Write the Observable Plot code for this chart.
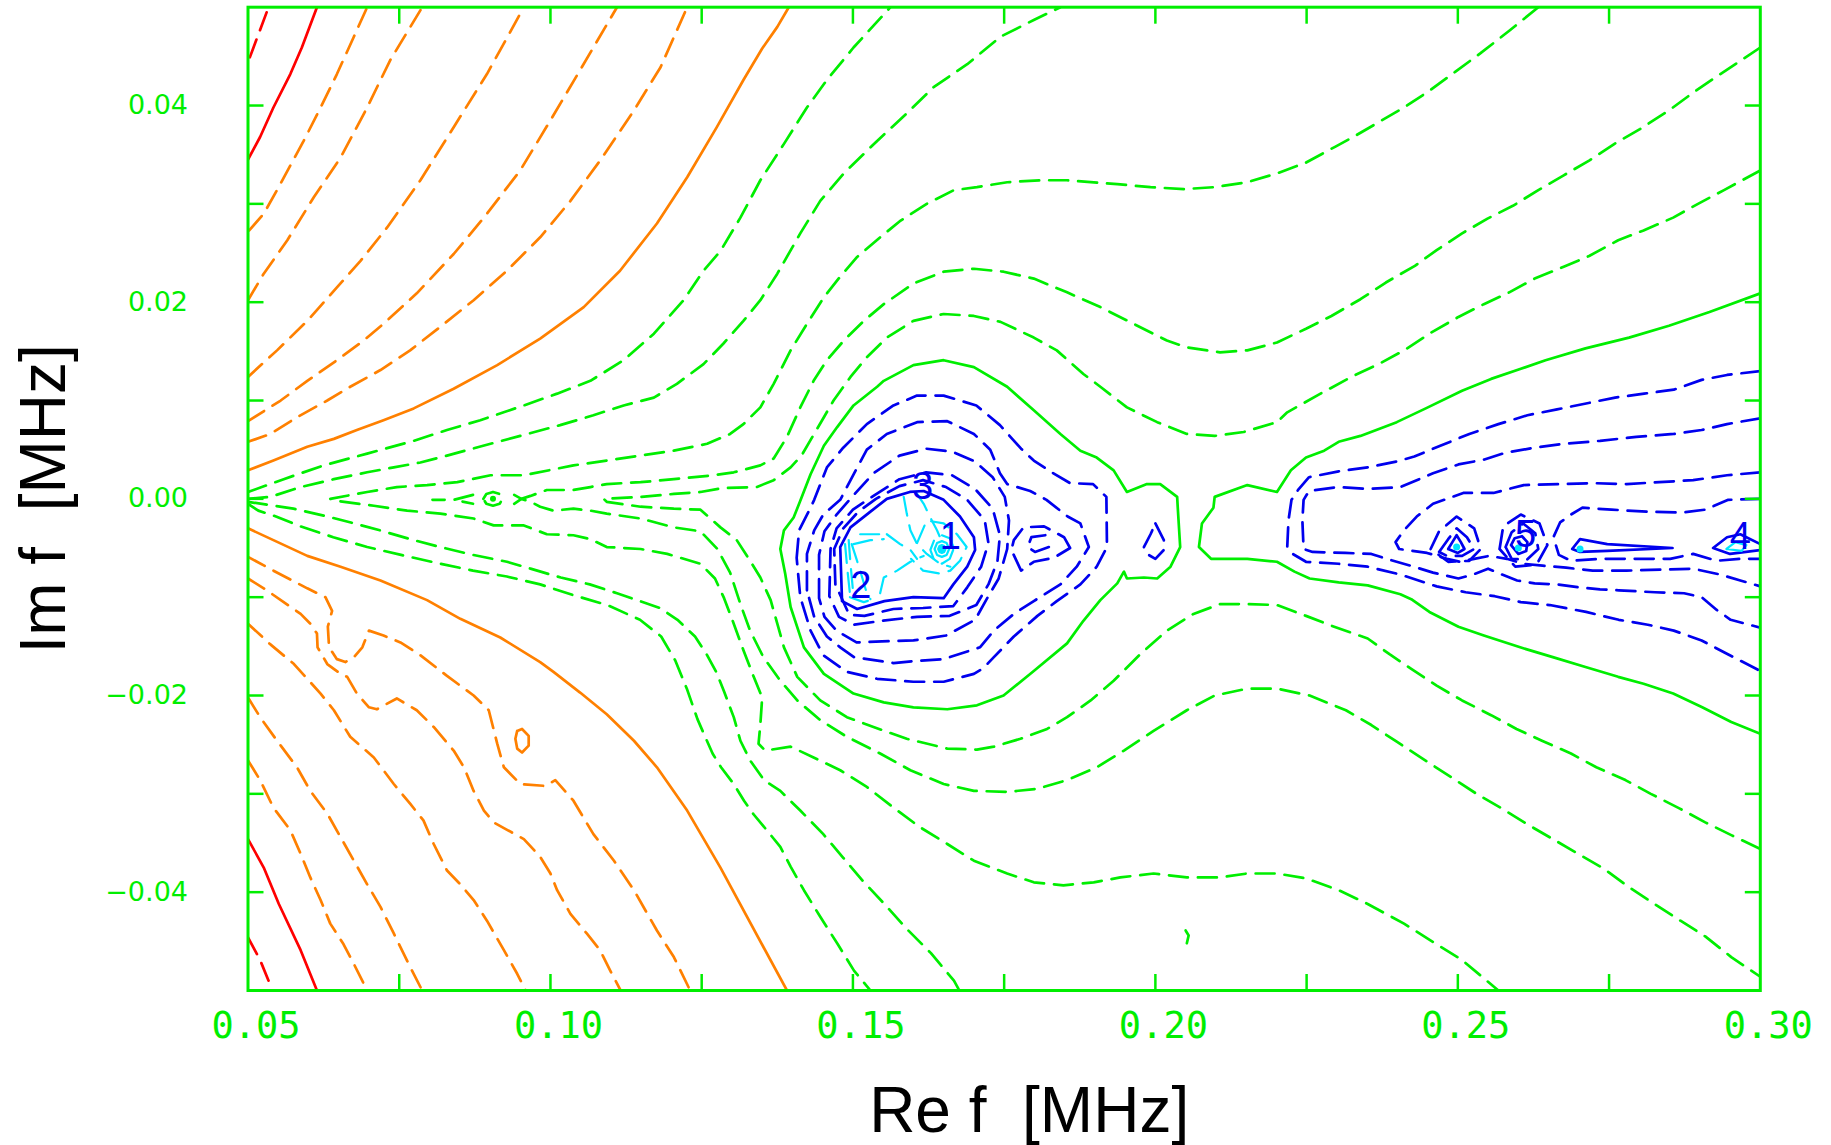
<!DOCTYPE html>
<html><head><meta charset="utf-8">
<script src="https://cdn.jsdelivr.net/npm/d3@7"></script>
<script src="https://cdn.jsdelivr.net/npm/@observablehq/plot@0.6"></script>
<style>html,body{margin:0;padding:0;background:#fff;}</style>
</head><body>
<div id="chart"></div>
<script>
// ---------- axis ticks ----------
const xMajorTicks = [0.05, 0.10, 0.15, 0.20, 0.25, 0.30];
const xMinorTicks = [0.075, 0.10, 0.125, 0.15, 0.175, 0.20, 0.225, 0.25, 0.275];
const yMajorTicks = [-0.04, -0.02, 0.00, 0.02, 0.04];
const yMinorTicks = [-0.04, -0.03, -0.02, -0.01, 0.00, 0.01, 0.02, 0.03, 0.04];
const xTitle = "Re f\u00a0\u00a0[MHz]";
const yTitle = "Im f\u00a0\u00a0[MHz]";

// ---------- resonance labels (Re f, Im f) ----------
const resonanceLabels = [
  {re: 0.1661, im: -0.0039, label: "1"},
  {re: 0.1513, im: -0.0088, label: "2"},
  {re: 0.1615, im: 0.0012, label: "3"},
  {re: 0.2967, im: -0.0039, label: "4"},
  {re: 0.2612, im: -0.0037, label: "5"}
];

// ---------- contour lines, [Re f, Im f] in MHz ----------
const redSolid = [
  [[0.0500,0.0345],[0.0520,0.0368],[0.0542,0.0398],[0.0570,0.0432],[0.0589,0.0459],[0.0614,0.0500]],
  [[0.0500,-0.0346],[0.0526,-0.0375],[0.0551,-0.0412],[0.0587,-0.0459],[0.0614,-0.0500]]
];
const redDashed = [
  [[0.0503,0.0449],[0.0534,0.0500]],
  [[0.0500,-0.0446],[0.0520,-0.0469],[0.0534,-0.0490],[0.0537,-0.0500]]
];
const orangeSolid = [
  [[0.0500,0.0029],[0.0542,0.0039],[0.0598,0.0053],[0.0642,0.0061],[0.0680,0.0070],[0.0724,0.0080],[0.0774,0.0092],[0.0840,0.0112],[0.0912,0.0136],[0.0983,0.0163],[0.1055,0.0195],[0.1115,0.0232],[0.1176,0.0280],[0.1226,0.0327],[0.1275,0.0378],[0.1319,0.0426],[0.1350,0.0458],[0.1375,0.0480],[0.1394,0.0500]],
  [[0.0500,-0.0030],[0.0542,-0.0042],[0.0598,-0.0058],[0.0653,-0.0069],[0.0719,-0.0083],[0.0796,-0.0103],[0.0851,-0.0122],[0.0917,-0.0141],[0.0983,-0.0166],[0.1005,-0.0176],[0.1049,-0.0197],[0.1093,-0.0219],[0.1138,-0.0246],[0.1176,-0.0273],[0.1226,-0.0317],[0.1281,-0.0375],[0.1391,-0.0500]],
  [[0.0945,-0.0236],[0.0953,-0.0234],[0.0964,-0.0241],[0.0964,-0.0251],[0.0953,-0.0258],[0.0945,-0.0254],[0.0942,-0.0244],[0.0945,-0.0236]]
];
const orangeDashed = [
  [[0.0502,0.0273],[0.0526,0.0290],[0.0548,0.0314],[0.0592,0.0364],[0.0620,0.0398],[0.0647,0.0432],[0.0675,0.0470],[0.0697,0.0500]],
  [[0.0500,0.0202],[0.0526,0.0229],[0.0565,0.0263],[0.0609,0.0307],[0.0653,0.0347],[0.0697,0.0398],[0.0735,0.0446],[0.0788,0.0500]],
  [[0.0500,0.0124],[0.0548,0.0151],[0.0598,0.0181],[0.0647,0.0215],[0.0686,0.0242],[0.0730,0.0276],[0.0785,0.0324],[0.0840,0.0378],[0.0895,0.0432],[0.0956,0.0500]],
  [[0.0500,0.0079],[0.0554,0.0100],[0.0598,0.0120],[0.0647,0.0141],[0.0691,0.0161],[0.0724,0.0178],[0.0779,0.0209],[0.0840,0.0249],[0.0890,0.0286],[0.0950,0.0334],[0.1000,0.0385],[0.1049,0.0436],[0.1110,0.0500]],
  [[0.0500,0.0058],[0.0537,0.0066],[0.0581,0.0083],[0.0631,0.0100],[0.0669,0.0114],[0.0719,0.0131],[0.0768,0.0151],[0.0818,0.0175],[0.0873,0.0202],[0.0928,0.0232],[0.0983,0.0266],[0.1033,0.0303],[0.1082,0.0344],[0.1138,0.0395],[0.1182,0.0439],[0.1226,0.0500]],
  [[0.0500,-0.0059],[0.0542,-0.0073],[0.0598,-0.0091],[0.0628,-0.0100],[0.0639,-0.0114],[0.0632,-0.0130],[0.0634,-0.0151],[0.0647,-0.0163],[0.0661,-0.0166],[0.0675,-0.0161],[0.0689,-0.0151],[0.0700,-0.0134],[0.0724,-0.0139],[0.0752,-0.0146],[0.0785,-0.0159],[0.0829,-0.0180],[0.0873,-0.0200],[0.0898,-0.0215],[0.0912,-0.0249],[0.0923,-0.0273],[0.0950,-0.0290],[0.0992,-0.0292],[0.1008,-0.0286],[0.1038,-0.0307],[0.1071,-0.0341],[0.1105,-0.0368],[0.1138,-0.0398],[0.1176,-0.0439],[0.1204,-0.0466],[0.1231,-0.0500]],
  [[0.0500,-0.0081],[0.0526,-0.0091],[0.0559,-0.0105],[0.0587,-0.0117],[0.0603,-0.0127],[0.0614,-0.0137],[0.0615,-0.0151],[0.0631,-0.0168],[0.0653,-0.0178],[0.0664,-0.0181],[0.0680,-0.0198],[0.0700,-0.0212],[0.0713,-0.0214],[0.0746,-0.0203],[0.0779,-0.0215],[0.0807,-0.0232],[0.0840,-0.0256],[0.0857,-0.0273],[0.0873,-0.0297],[0.0890,-0.0317],[0.0906,-0.0329],[0.0956,-0.0346],[0.0983,-0.0364],[0.1000,-0.0381],[0.1011,-0.0398],[0.1033,-0.0422],[0.1060,-0.0442],[0.1082,-0.0459],[0.1099,-0.0480],[0.1116,-0.0500]],
  [[0.0500,-0.0127],[0.0537,-0.0148],[0.0576,-0.0168],[0.0620,-0.0198],[0.0642,-0.0215],[0.0669,-0.0242],[0.0708,-0.0263],[0.0741,-0.0290],[0.0768,-0.0310],[0.0790,-0.0327],[0.0807,-0.0351],[0.0829,-0.0378],[0.0851,-0.0392],[0.0873,-0.0408],[0.0895,-0.0429],[0.0923,-0.0459],[0.0945,-0.0483],[0.0959,-0.0500]],
  [[0.0500,-0.0202],[0.0520,-0.0222],[0.0548,-0.0246],[0.0581,-0.0273],[0.0603,-0.0297],[0.0631,-0.0320],[0.0653,-0.0344],[0.0675,-0.0368],[0.0697,-0.0392],[0.0719,-0.0415],[0.0741,-0.0442],[0.0768,-0.0476],[0.0788,-0.0500]],
  [[0.0500,-0.0266],[0.0520,-0.0286],[0.0542,-0.0314],[0.0570,-0.0337],[0.0587,-0.0361],[0.0603,-0.0385],[0.0620,-0.0408],[0.0636,-0.0432],[0.0658,-0.0453],[0.0675,-0.0473],[0.0697,-0.0500]]
];
const greenSolid = [
  [[0.1413,-0.0002],[0.1430,0.0025],[0.1452,0.0054],[0.1474,0.0073],[0.1501,0.0095],[0.1540,0.0114],[0.1551,0.0120],[0.1600,0.0136],[0.1650,0.0141],[0.1700,0.0134],[0.1755,0.0114],[0.1799,0.0090],[0.1843,0.0066],[0.1876,0.0049],[0.1903,0.0042],[0.1931,0.0029],[0.1953,0.0007],[0.1986,0.0015],[0.2008,0.0015],[0.2036,0.0002],[0.2037,-0.0009],[0.2041,-0.0049],[0.2025,-0.0069],[0.2003,-0.0081],[0.1981,-0.0080],[0.1953,-0.0081],[0.1948,-0.0074],[0.1937,-0.0086],[0.1909,-0.0103],[0.1881,-0.0124],[0.1854,-0.0147],[0.1799,-0.0175],[0.1749,-0.0200],[0.1705,-0.0210],[0.1656,-0.0214],[0.1600,-0.0212],[0.1551,-0.0207],[0.1501,-0.0198],[0.1452,-0.0178],[0.1419,-0.0151],[0.1397,-0.0110],[0.1388,-0.0076],[0.1380,-0.0051],[0.1386,-0.0032],[0.1402,-0.0019],[0.1413,-0.0002]],
  [[0.3000,0.0209],[0.2916,0.0190],[0.2849,0.0176],[0.2783,0.0164],[0.2711,0.0153],[0.2645,0.0141],[0.2603,0.0132],[0.2555,0.0122],[0.2507,0.0110],[0.2447,0.0092],[0.2399,0.0078],[0.2339,0.0064],[0.2303,0.0058],[0.2279,0.0049],[0.2249,0.0042],[0.2224,0.0029],[0.2201,0.0007],[0.2152,0.0014],[0.2098,0.0002],[0.2096,-0.0009],[0.2077,-0.0025],[0.2072,-0.0049],[0.2092,-0.0061],[0.2152,-0.0061],[0.2201,-0.0064],[0.2230,-0.0074],[0.2255,-0.0081],[0.2303,-0.0085],[0.2351,-0.0088],[0.2405,-0.0097],[0.2423,-0.0102],[0.2453,-0.0115],[0.2501,-0.0130],[0.2543,-0.0139],[0.2603,-0.0151],[0.2657,-0.0161],[0.2711,-0.0171],[0.2765,-0.0181],[0.2807,-0.0188],[0.2856,-0.0198],[0.2904,-0.0212],[0.2952,-0.0227],[0.3000,-0.0239]],
  [[0.2050,-0.0439],[0.2055,-0.0444],[0.2052,-0.0452]]
];
const greenDashed = [
  [[0.0500,0.0007],[0.0559,0.0020],[0.0625,0.0034],[0.0697,0.0046],[0.0774,0.0059],[0.0829,0.0070],[0.0884,0.0080],[0.0956,0.0095],[0.1011,0.0107],[0.1066,0.0120],[0.1121,0.0141],[0.1171,0.0168],[0.1220,0.0202],[0.1253,0.0232],[0.1281,0.0252],[0.1314,0.0286],[0.1347,0.0324],[0.1386,0.0361],[0.1424,0.0398],[0.1457,0.0426],[0.1501,0.0459],[0.1562,0.0500]],
  [[0.0500,0.0000],[0.0537,0.0002],[0.0587,0.0012],[0.0642,0.0020],[0.0697,0.0027],[0.0741,0.0032],[0.0785,0.0037],[0.0829,0.0044],[0.0901,0.0056],[0.0950,0.0064],[0.1016,0.0075],[0.1071,0.0085],[0.1121,0.0095],[0.1171,0.0103],[0.1209,0.0117],[0.1253,0.0137],[0.1286,0.0158],[0.1319,0.0181],[0.1347,0.0202],[0.1375,0.0229],[0.1413,0.0270],[0.1446,0.0303],[0.1485,0.0331],[0.1540,0.0364],[0.1589,0.0392],[0.1634,0.0419],[0.1689,0.0442],[0.1744,0.0470],[0.1799,0.0487],[0.1843,0.0500]],
  [[0.2633,0.0500],[0.2585,0.0476],[0.2537,0.0453],[0.2495,0.0434],[0.2453,0.0415],[0.2411,0.0398],[0.2369,0.0383],[0.2327,0.0368],[0.2297,0.0358],[0.2249,0.0342],[0.2201,0.0331],[0.2152,0.0322],[0.2098,0.0317],[0.2047,0.0315],[0.1992,0.0317],[0.1937,0.0320],[0.1854,0.0324],[0.1810,0.0324],[0.1755,0.0322],[0.1705,0.0317],[0.1667,0.0314],[0.1622,0.0300],[0.1579,0.0283],[0.1545,0.0266],[0.1507,0.0246],[0.1479,0.0226],[0.1452,0.0205],[0.1424,0.0178],[0.1397,0.0151],[0.1369,0.0117],[0.1347,0.0093],[0.1319,0.0076],[0.1297,0.0066],[0.1259,0.0056],[0.1204,0.0049],[0.1149,0.0044],[0.1093,0.0039],[0.1038,0.0034],[0.0956,0.0024],[0.0901,0.0024],[0.0846,0.0017],[0.0796,0.0014],[0.0746,0.0012],[0.0697,0.0007],[0.0636,0.0000],
   [0.0647,-0.0002],[0.0708,-0.0007],[0.0763,-0.0012],[0.0818,-0.0015],[0.0873,-0.0020],[0.0906,-0.0027],[0.0956,-0.0027],[0.0994,-0.0036],[0.1038,-0.0037],[0.1066,-0.0041],[0.1093,-0.0049],[0.1149,-0.0051],[0.1193,-0.0056],[0.1248,-0.0066],[0.1272,-0.0081],[0.1287,-0.0101],[0.1303,-0.0127],[0.1319,-0.0154],[0.1336,-0.0181],[0.1350,-0.0202],[0.1347,-0.0229],[0.1344,-0.0249],[0.1355,-0.0256],[0.1397,-0.0252],[0.1435,-0.0263],[0.1479,-0.0276],[0.1523,-0.0293],[0.1567,-0.0314],[0.1611,-0.0334],[0.1656,-0.0351],[0.1700,-0.0368],[0.1755,-0.0381],[0.1799,-0.0390],[0.1848,-0.0393],[0.1898,-0.0390],[0.1942,-0.0385],[0.1997,-0.0381],[0.2052,-0.0385],[0.2106,-0.0385],[0.2152,-0.0381],[0.2201,-0.0381],[0.2249,-0.0386],[0.2303,-0.0398],[0.2351,-0.0412],[0.2411,-0.0432],[0.2465,-0.0453],[0.2507,-0.0469],[0.2567,-0.0500]],
  [[0.3000,0.0459],[0.2934,0.0432],[0.2891,0.0414],[0.2849,0.0395],[0.2801,0.0376],[0.2759,0.0361],[0.2717,0.0344],[0.2675,0.0329],[0.2633,0.0314],[0.2591,0.0298],[0.2549,0.0285],[0.2507,0.0270],[0.2465,0.0253],[0.2429,0.0237],[0.2381,0.0220],[0.2339,0.0203],[0.2291,0.0186],[0.2249,0.0173],[0.2201,0.0159],[0.2152,0.0151],[0.2107,0.0149],[0.2052,0.0154],[0.2019,0.0161],[0.1964,0.0178],[0.1909,0.0195],[0.1854,0.0210],[0.1799,0.0224],[0.1749,0.0231],[0.1700,0.0234],[0.1650,0.0231],[0.1600,0.0219],[0.1551,0.0198],[0.1518,0.0181],[0.1485,0.0161],[0.1457,0.0141],[0.1435,0.0120],[0.1413,0.0093],[0.1391,0.0063],[0.1369,0.0041],[0.1347,0.0034],[0.1303,0.0027],[0.1270,0.0024],[0.1204,0.0020],[0.1149,0.0017],[0.1093,0.0015],[0.1066,0.0012],[0.1038,0.0009],[0.0994,0.0009],[0.0967,0.0003],[0.0952,0.0000],
   [0.0967,-0.0003],[0.0983,-0.0008],[0.1005,-0.0012],[0.1038,-0.0010],[0.1066,-0.0012],[0.1093,-0.0015],[0.1149,-0.0020],[0.1204,-0.0029],[0.1248,-0.0033],[0.1276,-0.0051],[0.1297,-0.0075],[0.1314,-0.0107],[0.1330,-0.0134],[0.1352,-0.0161],[0.1380,-0.0185],[0.1408,-0.0205],[0.1446,-0.0225],[0.1490,-0.0242],[0.1545,-0.0259],[0.1595,-0.0276],[0.1650,-0.0290],[0.1700,-0.0297],[0.1755,-0.0298],[0.1804,-0.0295],[0.1854,-0.0286],[0.1903,-0.0273],[0.1948,-0.0256],[0.1997,-0.0236],[0.2052,-0.0215],[0.2098,-0.0200],[0.2152,-0.0193],[0.2201,-0.0193],[0.2255,-0.0200],[0.2315,-0.0215],[0.2357,-0.0230],[0.2399,-0.0247],[0.2441,-0.0264],[0.2489,-0.0283],[0.2531,-0.0300],[0.2573,-0.0315],[0.2615,-0.0331],[0.2657,-0.0346],[0.2699,-0.0361],[0.2741,-0.0376],[0.2783,-0.0395],[0.2825,-0.0412],[0.2868,-0.0429],[0.2909,-0.0445],[0.2952,-0.0466],[0.3000,-0.0486]],
  [[0.3000,0.0334],[0.2940,0.0314],[0.2897,0.0300],[0.2856,0.0286],[0.2807,0.0273],[0.2765,0.0263],[0.2717,0.0247],[0.2675,0.0236],[0.2627,0.0224],[0.2585,0.0210],[0.2543,0.0198],[0.2501,0.0185],[0.2453,0.0168],[0.2411,0.0151],[0.2369,0.0137],[0.2327,0.0125],[0.2273,0.0107],[0.2218,0.0088],[0.2201,0.0078],[0.2146,0.0068],[0.2098,0.0064],[0.2052,0.0066],[0.2003,0.0078],[0.1953,0.0093],[0.1909,0.0114],[0.1881,0.0127],[0.1837,0.0151],[0.1799,0.0164],[0.1744,0.0180],[0.1700,0.0186],[0.1650,0.0188],[0.1600,0.0181],[0.1556,0.0164],[0.1523,0.0144],[0.1496,0.0124],[0.1468,0.0100],[0.1452,0.0083],[0.1432,0.0062],[0.1415,0.0044],[0.1397,0.0032],[0.1369,0.0019],[0.1341,0.0012],[0.1286,0.0011],[0.1248,0.0007],[0.1204,0.0005],[0.1149,0.0002],[0.1088,0.0000],
   [0.1093,-0.0003],[0.1149,-0.0008],[0.1204,-0.0010],[0.1248,-0.0011],[0.1281,-0.0029],[0.1308,-0.0042],[0.1330,-0.0063],[0.1347,-0.0080],[0.1364,-0.0103],[0.1375,-0.0127],[0.1386,-0.0151],[0.1408,-0.0181],[0.1446,-0.0205],[0.1490,-0.0222],[0.1534,-0.0232],[0.1589,-0.0244],[0.1656,-0.0254],[0.1705,-0.0255],[0.1733,-0.0252],[0.1777,-0.0244],[0.1821,-0.0234],[0.1854,-0.0222],[0.1893,-0.0205],[0.1931,-0.0185],[0.1975,-0.0158],[0.2019,-0.0134],[0.2063,-0.0117],[0.2107,-0.0107],[0.2152,-0.0107],[0.2201,-0.0108],[0.2249,-0.0119],[0.2291,-0.0129],[0.2351,-0.0142],[0.2387,-0.0158],[0.2423,-0.0173],[0.2465,-0.0190],[0.2507,-0.0205],[0.2555,-0.0220],[0.2597,-0.0234],[0.2639,-0.0246],[0.2687,-0.0259],[0.2729,-0.0273],[0.2777,-0.0286],[0.2819,-0.0300],[0.2867,-0.0315],[0.2909,-0.0329],[0.2952,-0.0342],[0.3000,-0.0356]],
  [[0.0500,-0.0003],[0.0575,-0.0010],[0.0625,-0.0017],[0.0676,-0.0025],[0.0718,-0.0032],[0.0774,-0.0042],[0.0818,-0.0049],[0.0872,-0.0057],[0.0928,-0.0064],[0.0967,-0.0071],[0.1017,-0.0080],[0.1065,-0.0087],[0.1110,-0.0096],[0.1148,-0.0104],[0.1181,-0.0111],[0.1210,-0.0123],[0.1239,-0.0140],[0.1258,-0.0158],[0.1274,-0.0176],[0.1287,-0.0196],[0.1303,-0.0222],[0.1314,-0.0246],[0.1330,-0.0266],[0.1353,-0.0286],[0.1380,-0.0297],[0.1413,-0.0317],[0.1451,-0.0341],[0.1484,-0.0365],[0.1517,-0.0389],[0.1552,-0.0412],[0.1590,-0.0438],[0.1629,-0.0462],[0.1667,-0.0490],[0.1676,-0.0500]],
  [[0.0500,-0.0005],[0.0517,-0.0012],[0.0542,-0.0017],[0.0587,-0.0028],[0.0641,-0.0039],[0.0697,-0.0049],[0.0753,-0.0057],[0.0818,-0.0066],[0.0872,-0.0073],[0.0928,-0.0079],[0.0983,-0.0087],[0.1038,-0.0098],[0.1094,-0.0108],[0.1148,-0.0123],[0.1183,-0.0140],[0.1206,-0.0164],[0.1226,-0.0194],[0.1243,-0.0224],[0.1255,-0.0241],[0.1268,-0.0259],[0.1282,-0.0273],[0.1303,-0.0290],[0.1320,-0.0307],[0.1336,-0.0321],[0.1359,-0.0338],[0.1380,-0.0354],[0.1397,-0.0374],[0.1419,-0.0398],[0.1446,-0.0425],[0.1475,-0.0453],[0.1502,-0.0480],[0.1529,-0.0500]],
  [[0.0889,0.0000],[0.0894,0.0005],[0.0905,0.0007],[0.0916,0.0005],[0.0921,0.0000],[0.0916,-0.0005],[0.0905,-0.0007],[0.0894,-0.0005],[0.0889,0.0000]],
  [[0.0872,0.0004],[0.0840,-0.0001],[0.0872,-0.0005]],
  [[0.0940,0.0004],[0.0952,0.0000],[0.0940,-0.0005]],
  [[0.0805,-0.0001],[0.0825,-0.0001]]
];
const blueSolid = [
  [[0.1479,-0.0049],[0.1496,-0.0029],[0.1529,-0.0013],[0.1556,0.0000],[0.1594,0.0007],[0.1617,0.0008],[0.1650,-0.0001],[0.1677,-0.0018],[0.1700,-0.0039],[0.1702,-0.0052],[0.1689,-0.0069],[0.1666,-0.0087],[0.1650,-0.0101],[0.1600,-0.0100],[0.1552,-0.0104],[0.1507,-0.0112],[0.1482,-0.0104],[0.1479,-0.0049]],
  [[0.2484,-0.0051],[0.2492,-0.0043],[0.2498,-0.0037],[0.2505,-0.0044],[0.2511,-0.0051],[0.2500,-0.0055],[0.2484,-0.0051]],
  [[0.2588,-0.0047],[0.2594,-0.0040],[0.2606,-0.0038],[0.2615,-0.0044],[0.2613,-0.0053],[0.2600,-0.0056],[0.2588,-0.0047]],
  [[0.2689,-0.0051],[0.2702,-0.0041],[0.2747,-0.0046],[0.2855,-0.0050],[0.2747,-0.0053],[0.2702,-0.0054],[0.2689,-0.0051]],
  [[0.3000,-0.0046],[0.2967,-0.0036],[0.2945,-0.0039],[0.2922,-0.0050],[0.2950,-0.0056],[0.3000,-0.0052]]
];
const blueDashed = [
  [[0.1471,-0.0087],[0.1469,-0.0051],[0.1484,-0.0030],[0.1509,-0.0013],[0.1538,0.0000],[0.1577,0.0013],[0.1616,0.0019],[0.1654,0.0012],[0.1689,-0.0001],[0.1718,-0.0022],[0.1724,-0.0045],[0.1712,-0.0069],[0.1689,-0.0090],[0.1666,-0.0109],[0.1616,-0.0111],[0.1567,-0.0112],[0.1519,-0.0119],[0.1494,-0.0118],[0.1471,-0.0087]],
  [[0.1461,-0.0099],[0.1463,-0.0051],[0.1473,-0.0030],[0.1500,-0.0011],[0.1534,0.0003],[0.1577,0.0020],[0.1621,0.0027],[0.1664,0.0024],[0.1702,0.0010],[0.1731,-0.0010],[0.1743,-0.0037],[0.1739,-0.0063],[0.1724,-0.0087],[0.1704,-0.0108],[0.1660,-0.0119],[0.1606,-0.0120],[0.1548,-0.0124],[0.1502,-0.0128],[0.1477,-0.0120],[0.1461,-0.0099]],
  [[0.1444,-0.0101],[0.1444,-0.0057],[0.1453,-0.0033],[0.1473,-0.0016],[0.1500,0.0003],[0.1534,0.0026],[0.1577,0.0044],[0.1621,0.0051],[0.1664,0.0048],[0.1702,0.0038],[0.1731,0.0022],[0.1751,0.0002],[0.1758,-0.0022],[0.1755,-0.0051],[0.1741,-0.0081],[0.1722,-0.0101],[0.1702,-0.0123],[0.1654,-0.0139],[0.1600,-0.0144],[0.1548,-0.0145],[0.1506,-0.0146],[0.1473,-0.0134],[0.1453,-0.0120],[0.1444,-0.0101]],
  [[0.1424,-0.0093],[0.1424,-0.0056],[0.1436,-0.0032],[0.1451,-0.0016],[0.1479,-0.0001],[0.1502,0.0026],[0.1523,0.0050],[0.1556,0.0066],[0.1606,0.0078],[0.1656,0.0079],[0.1700,0.0066],[0.1727,0.0050],[0.1743,0.0026],[0.1755,0.0015],[0.1793,0.0008],[0.1820,-0.0001],[0.1855,-0.0018],[0.1876,-0.0025],[0.1890,-0.0049],[0.1870,-0.0069],[0.1843,-0.0087],[0.1799,-0.0104],[0.1766,-0.0117],[0.1733,-0.0134],[0.1710,-0.0151],[0.1650,-0.0163],[0.1600,-0.0165],[0.1567,-0.0167],[0.1502,-0.0161],[0.1479,-0.0151],[0.1457,-0.0140],[0.1436,-0.0120],[0.1424,-0.0093]],
  [[0.1407,-0.0060],[0.1411,-0.0032],[0.1430,-0.0009],[0.1436,-0.0001],[0.1457,0.0032],[0.1484,0.0052],[0.1523,0.0076],[0.1567,0.0095],[0.1606,0.0105],[0.1650,0.0105],[0.1704,0.0095],[0.1743,0.0075],[0.1778,0.0051],[0.1799,0.0039],[0.1826,0.0028],[0.1859,0.0016],[0.1897,0.0015],[0.1919,0.0002],[0.1920,-0.0049],[0.1903,-0.0069],[0.1876,-0.0087],[0.1837,-0.0104],[0.1805,-0.0119],[0.1766,-0.0140],[0.1733,-0.0161],[0.1716,-0.0172],[0.1700,-0.0178],[0.1650,-0.0186],[0.1600,-0.0186],[0.1540,-0.0183],[0.1490,-0.0176],[0.1451,-0.0159],[0.1430,-0.0134],[0.1413,-0.0100],[0.1407,-0.0060]],
  [[0.1859,-0.0050],[0.1849,-0.0039],[0.1816,-0.0028],[0.1782,-0.0029],[0.1766,-0.0042],[0.1762,-0.0052],[0.1778,-0.0073],[0.1799,-0.0064],[0.1832,-0.0060],[0.1859,-0.0050]],
  [[0.1818,-0.0037],[0.1795,-0.0039],[0.1789,-0.0049],[0.1801,-0.0054],[0.1824,-0.0049]],
  [[0.2000,-0.0025],[0.2014,-0.0042],[0.2014,-0.0052],[0.2000,-0.0061],[0.1986,-0.0056],[0.1981,-0.0049],[0.1992,-0.0036],[0.2000,-0.0025]],
  [[0.3000,0.0130],[0.2945,0.0126],[0.2903,0.0121],[0.2857,0.0111],[0.2808,0.0107],[0.2760,0.0103],[0.2712,0.0097],[0.2664,0.0091],[0.2615,0.0085],[0.2567,0.0076],[0.2519,0.0066],[0.2471,0.0054],[0.2428,0.0043],[0.2399,0.0038],[0.2351,0.0032],[0.2303,0.0028],[0.2254,0.0022],[0.2237,0.0010],[0.2225,-0.0001],[0.2220,-0.0022],[0.2218,-0.0049],[0.2227,-0.0056],[0.2249,-0.0064],[0.2303,-0.0066],[0.2351,-0.0069],[0.2405,-0.0077],[0.2465,-0.0089],[0.2513,-0.0095],[0.2561,-0.0099],[0.2604,-0.0105],[0.2652,-0.0108],[0.2712,-0.0115],[0.2766,-0.0123],[0.2814,-0.0128],[0.2857,-0.0134],[0.2903,-0.0144],[0.2940,-0.0156],[0.3000,-0.0175]],
  [[0.3000,0.0082],[0.2945,0.0076],[0.2903,0.0070],[0.2857,0.0066],[0.2795,0.0063],[0.2735,0.0059],[0.2675,0.0056],[0.2627,0.0052],[0.2579,0.0047],[0.2544,0.0040],[0.2501,0.0035],[0.2459,0.0026],[0.2405,0.0012],[0.2351,0.0010],[0.2303,0.0012],[0.2254,0.0008],[0.2245,-0.0001],[0.2243,-0.0022],[0.2245,-0.0051],[0.2260,-0.0054],[0.2314,-0.0055],[0.2357,-0.0056],[0.2382,-0.0061],[0.2422,-0.0068],[0.2459,-0.0075],[0.2501,-0.0081],[0.2525,-0.0077],[0.2550,-0.0071],[0.2573,-0.0077],[0.2598,-0.0083],[0.2627,-0.0086],[0.2664,-0.0087],[0.2700,-0.0090],[0.2735,-0.0092],[0.2766,-0.0093],[0.2826,-0.0095],[0.2874,-0.0096],[0.2903,-0.0100],[0.2928,-0.0113],[0.2951,-0.0123],[0.3000,-0.0131]],
  [[0.3000,0.0027],[0.2945,0.0024],[0.2889,0.0019],[0.2833,0.0017],[0.2779,0.0015],[0.2723,0.0016],[0.2669,0.0015],[0.2609,0.0014],[0.2559,0.0006],[0.2509,0.0006],[0.2459,-0.0005],[0.2432,-0.0018],[0.2411,-0.0032],[0.2397,-0.0044],[0.2403,-0.0051],[0.2449,-0.0055],[0.2482,-0.0061],[0.2503,-0.0064],[0.2527,-0.0061],[0.2552,-0.0058],[0.2581,-0.0061],[0.2608,-0.0066],[0.2640,-0.0068],[0.2679,-0.0070],[0.2723,-0.0073],[0.2779,-0.0073],[0.2835,-0.0072],[0.2889,-0.0071],[0.2934,-0.0077],[0.2967,-0.0083],[0.3000,-0.0089]],
  [[0.3000,0.0000],[0.2947,-0.0001],[0.2909,-0.0011],[0.2870,-0.0014],[0.2812,-0.0013],[0.2754,-0.0011],[0.2706,-0.0009],[0.2687,-0.0016],[0.2669,-0.0024],[0.2658,-0.0039],[0.2667,-0.0057],[0.2687,-0.0063],[0.2735,-0.0061],[0.2793,-0.0061],[0.2851,-0.0061],[0.2889,-0.0056],[0.2928,-0.0063],[0.2967,-0.0061],[0.3000,-0.0061]],
  [[0.2469,-0.0054],[0.2484,-0.0041],[0.2498,-0.0030],[0.2515,-0.0039],[0.2527,-0.0051],[0.2507,-0.0058],[0.2482,-0.0058],[0.2469,-0.0054]],
  [[0.2455,-0.0051],[0.2469,-0.0033],[0.2498,-0.0018],[0.2527,-0.0030],[0.2538,-0.0051],[0.2519,-0.0063],[0.2484,-0.0064],[0.2455,-0.0051]],
  [[0.2579,-0.0049],[0.2589,-0.0034],[0.2608,-0.0025],[0.2628,-0.0035],[0.2633,-0.0051],[0.2614,-0.0062],[0.2589,-0.0061],[0.2579,-0.0049]],
  [[0.2569,-0.0051],[0.2575,-0.0028],[0.2604,-0.0016],[0.2635,-0.0025],[0.2648,-0.0047],[0.2630,-0.0067],[0.2595,-0.0069],[0.2569,-0.0051]]
];
const cyanSolid = [
  [[0.1653,-0.0051],[0.1651,-0.0048],[0.1647,-0.0047],[0.1643,-0.0048],[0.1641,-0.0051],[0.1643,-0.0054],[0.1647,-0.0055],[0.1651,-0.0054],[0.1653,-0.0051]],
  [[0.1659,-0.0051],[0.1655,-0.0045],[0.1647,-0.0043],[0.1639,-0.0045],[0.1635,-0.0051],[0.1639,-0.0057],[0.1647,-0.0059],[0.1655,-0.0057],[0.1659,-0.0051]],
  [[0.2944,-0.0051],[0.2959,-0.0044],[0.2977,-0.0047],[0.2969,-0.0053],[0.2944,-0.0051]]
];
const cyanDashed = [
  [[0.1667,-0.0050],[0.1660,-0.0040],[0.1647,-0.0037],[0.1635,-0.0041],[0.1628,-0.0052],[0.1634,-0.0062],[0.1647,-0.0066],[0.1660,-0.0061],[0.1667,-0.0050]],
  [[0.1606,-0.0045],[0.1622,-0.0022],[0.1650,-0.0025],[0.1672,-0.0036],[0.1688,-0.0049],[0.1677,-0.0063],[0.1661,-0.0073],[0.1644,-0.0076],[0.1616,-0.0073],[0.1596,-0.0061]],
  [[0.1584,0.0002],[0.1589,-0.0015],[0.1595,-0.0032],[0.1606,-0.0046],[0.1622,-0.0056],[0.1644,-0.0066],[0.1661,-0.0069]],
  [[0.1606,0.0005],[0.1617,-0.0005],[0.1628,-0.0019],[0.1639,-0.0032],[0.1644,-0.0039]],
  [[0.1545,-0.0096],[0.1551,-0.0080],[0.1573,-0.0073],[0.1595,-0.0064],[0.1617,-0.0058]],
  [[0.1501,-0.0046],[0.1529,-0.0042],[0.1551,-0.0041]],
  [[0.1512,-0.0036],[0.1545,-0.0036]],
  [[0.1556,-0.0036],[0.1578,-0.0046],[0.1595,-0.0052],[0.1606,-0.0061]],
  [[0.1493,-0.0042],[0.1496,-0.0066],[0.1499,-0.0086],[0.1501,-0.0100]],
  [[0.1487,-0.0046],[0.1491,-0.0073],[0.1495,-0.0096]],
  [[0.1498,-0.0046],[0.1512,-0.0073],[0.1523,-0.0096],[0.1529,-0.0102]],
  [[0.1495,-0.0100],[0.1518,-0.0105],[0.1535,-0.0102]]
];
const cyanDots = [[0.1647,-0.0051],[0.2498,-0.0049],[0.2600,-0.0050],[0.2702,-0.0051]];
const greenDots = [[0.0905,0.0000]];

// ---------- styles ----------
const GREEN = "#00ee00", ORANGE = "#ff8000", RED = "#ff0000", BLUE = "#0000ee", CYAN = "#00e5ff";
const DASH = "19,10";

function rows(lines, group) {
  return lines.flatMap((pts, i) => pts.map(([re, im]) => ({id: group + "-" + i, re, im})));
}
function contour(lines, group, color, dashed, width = 2.7) {
  return Plot.line(rows(lines, group), {
    x: "re", y: "im", z: "id", stroke: color, strokeWidth: width,
    strokeDasharray: dashed ? DASH : null, clip: true, curve: "linear"
  });
}
const fmt = d => (d < -1e-9 ? "\u2212" : "") + Math.abs(d).toFixed(2);
const xTickFont = "DejaVu Sans Mono, Liberation Mono, monospace";
const yTickFont = "DejaVu Sans, Verdana, sans-serif";
const titleFont = "Liberation Sans, Arial, Helvetica, sans-serif";

const chart = Plot.plot({
  width: 1831, height: 1145,
  marginLeft: 247.5, marginRight: 71.2, marginTop: 6.7, marginBottom: 155,
  x: {domain: [0.05, 0.30], axis: null},
  y: {domain: [-0.05, 0.05], axis: null},
  style: {background: "white"},
  marks: [
    contour(orangeDashed, "od", ORANGE, true),
    contour(orangeSolid, "os", ORANGE, false),
    contour(redDashed, "rd", RED, true),
    contour(redSolid, "rs", RED, false),
    contour(greenDashed, "gd", GREEN, true),
    contour(greenSolid, "gs", GREEN, false),
    contour(blueDashed, "bd", BLUE, true),
    contour(blueSolid, "bs", BLUE, false),
    contour(cyanDashed, "cd", CYAN, true, 2.2),
    contour(cyanSolid, "cs", CYAN, false, 2.2),
    Plot.dot(cyanDots, {x: d => d[0], y: d => d[1], r: 3.5, fill: CYAN}),
    Plot.dot(greenDots, {x: d => d[0], y: d => d[1], r: 3, fill: GREEN}),
    Plot.text(resonanceLabels, {x: "re", y: "im", text: "label", fill: BLUE, fontSize: 38, fontFamily: titleFont}),
    // inward ticks on all four sides
    Plot.axisX(xMinorTicks, {anchor: "bottom", tickSize: -16, tickFormat: () => "", stroke: GREEN, strokeWidth: 2.5, label: null}),
    Plot.axisX(xMinorTicks, {anchor: "top", tickSize: -16, tickFormat: () => "", stroke: GREEN, strokeWidth: 2.5, label: null}),
    Plot.axisY(yMinorTicks, {anchor: "left", tickSize: -16, tickFormat: () => "", stroke: GREEN, strokeWidth: 2.5, label: null}),
    Plot.axisY(yMinorTicks, {anchor: "right", tickSize: -16, tickFormat: () => "", stroke: GREEN, strokeWidth: 2.5, label: null}),
    // tick labels
    Plot.axisX(xMajorTicks, {anchor: "bottom", tickSize: 0, tickPadding: 21, dx: 8, tickFormat: fmt, color: GREEN, fontSize: 37, fontFamily: xTickFont, label: null}),
    Plot.axisY(yMajorTicks, {anchor: "left", tickSize: 0, tickPadding: 60, tickFormat: fmt, color: GREEN, fontSize: 27, fontFamily: yTickFont, label: null}),
    Plot.frame({stroke: GREEN, strokeWidth: 3}),
    // axis titles
    Plot.text([xTitle], {text: d => d, frameAnchor: "bottom", textAnchor: "middle", lineAnchor: "bottom", dy: 141.7, dx: 25, fontSize: 64, fontFamily: titleFont, fill: "black"}),
    Plot.text([yTitle], {text: d => d, frameAnchor: "left", textAnchor: "middle", lineAnchor: "bottom", rotate: -90, dx: -182.8, fontSize: 64, fontFamily: titleFont, fill: "black"})
  ]
});
document.getElementById("chart").appendChild(chart);
</script>
</body></html>
